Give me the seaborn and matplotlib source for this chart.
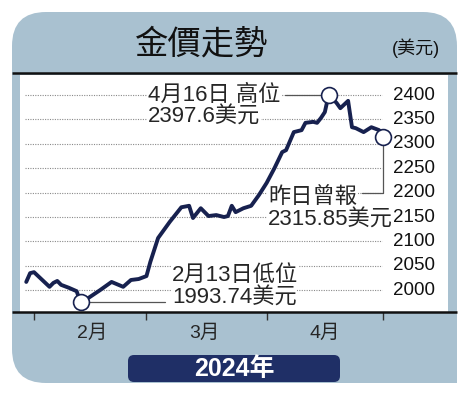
import pandas as pd
import matplotlib.pyplot as plt
import seaborn as sns
from matplotlib.patches import FancyBboxPatch, Rectangle

sns.set_theme(style='white')
plt.rcParams['font.family'] = ['Liberation Sans', 'Noto Sans CJK TC', 'DejaVu Sans']

# gold price, US$
dates = ['2024-01-30', '2024-01-31', '2024-02-01', '2024-02-05', '2024-02-06', '2024-02-07',
         '2024-02-08', '2024-02-10', '2024-02-12', '2024-02-13', '2024-02-15', '2024-02-18',
         '2024-02-21', '2024-02-24', '2024-02-26', '2024-02-28', '2024-03-01', '2024-03-02',
         '2024-03-04', '2024-03-07', '2024-03-10', '2024-03-12', '2024-03-13', '2024-03-15',
         '2024-03-17', '2024-03-19', '2024-03-21', '2024-03-22', '2024-03-23', '2024-03-24',
         '2024-03-26', '2024-03-28', '2024-03-30', '2024-04-01', '2024-04-03', '2024-04-05',
         '2024-04-06', '2024-04-08', '2024-04-10', '2024-04-11', '2024-04-13', '2024-04-14',
         '2024-04-15', '2024-04-16', '2024-04-17', '2024-04-19', '2024-04-20', '2024-04-22',
         '2024-04-23', '2024-04-24', '2024-04-26', '2024-04-28', '2024-04-30', '2024-05-01']
prices = [2017, 2035, 2037, 2007, 2015, 2019,
          2011, 2005, 1998, 1975, 1984, 2000,
          2017, 2007, 2021, 2023, 2029, 2058,
          2107, 2140, 2170, 2173, 2148, 2168,
          2152, 2154, 2150, 2152, 2173, 2160,
          2168, 2173, 2195, 2220, 2250, 2283,
          2287, 2324, 2328, 2343, 2345, 2343,
          2353, 2365, 2401, 2384, 2373, 2388,
          2334, 2332, 2324, 2334, 2328, 2314]
y_ticks = [2000, 2050, 2100, 2150, 2200, 2250, 2300, 2350, 2400]
month_starts = ['2024-02-01', '2024-03-01', '2024-04-01', '2024-05-01']
month_mid = ['2024-02-16', '2024-03-16', '2024-04-16']
month_labels = ['2月', '3月', '4月']

df = pd.DataFrame({'date': pd.to_datetime(dates), 'price': prices})

navy = '#17214f'
panel = '#a9c1d0'
grey = '#8a8a8a'

fig = plt.figure(figsize=(4.74, 3.99), dpi=100)
fig.patch.set_facecolor('white')

# background panel, pixel coordinates
bg = fig.add_axes([0, 0, 1, 1], zorder=0)
bg.set_xlim(0, 474)
bg.set_ylim(399, 0)
bg.axis('off')
bg.add_patch(FancyBboxPatch((12, 12), 445, 371, boxstyle='round,pad=0,rounding_size=34',
                            fc=panel, ec='none'))
bg.add_patch(Rectangle((400, 300), 57, 83, fc=panel, ec='none'))
bg.text(201, 45, '金價走勢', fontsize=24, ha='center', va='center', color='#111111')
bg.text(416, 48, '(美元)', fontsize=13, ha='center', va='center', color='#111111')
bg.add_patch(FancyBboxPatch((128, 355), 212, 27, boxstyle='round,pad=0,rounding_size=6',
                            fc='#1f2f66', ec='none'))
bg.text(234, 369, '2024年', fontsize=18, fontweight='bold', ha='center', va='center', color='white')

# main chart
ax = fig.add_axes([20 / 474, 1 - 312 / 399, 428 / 474, 237 / 399], zorder=1)
ax.set_facecolor('white')
t0 = pd.Timestamp('2024-02-01')
day = pd.Timedelta(days=1)
ax.set_xlim(t0 - 3.61 * day, t0 + 106.76 * day)
ax.set_ylim(1955.4, 2441)

ax.hlines(y_ticks, t0 - 2.3 * day, t0 + 89.7 * day, colors=grey, linestyles=(0, (1, 1.2)),
          linewidth=0.8, zorder=1)
for v in y_ticks:
    ax.text(t0 + 92.6 * day, v, str(v), fontsize=13.5, ha='left', va='center', color='#111111')

sns.lineplot(data=df, x='date', y='price', ax=ax, color=navy, linewidth=2.8, zorder=3)

lo = df['price'].idxmin()
hi = df['price'].idxmax()
last = len(df) - 1
lc = '#555555'
ax.plot([df['date'][lo], t0 + 33.8 * day], [df['price'][lo]] * 2, color=lc, lw=0.9, zorder=2)
ax.plot([t0 + 64.7 * day, df['date'][hi]], [df['price'][hi]] * 2, color=lc, lw=0.9, zorder=2)
ax.plot([df['date'][last], df['date'][last], t0 + 84.6 * day],
        [df['price'][last], 2199, 2199], color=lc, lw=0.9, zorder=2)
pts = df.loc[[lo, hi, last]]
ax.scatter(pts['date'], pts['price'], s=130, facecolor='white', edgecolor=navy,
           linewidth=1.2, zorder=5)

box = dict(facecolor='white', edgecolor='none', pad=0.5)
fs = 16
ax.text(t0 + 29.4 * day, 2400, '4月16日 高位', fontsize=fs, ha='left', va='center', bbox=box, zorder=4)
ax.text(t0 + 29.4 * day, 2355, '2397.6美元', fontsize=fs, ha='left', va='center', bbox=box, zorder=4)
ax.text(t0 + 60.3 * day, 2191, '昨日曾報', fontsize=fs, ha='left', va='center', bbox=box, zorder=4)
ax.text(t0 + 60.3 * day, 2144, '2315.85美元', fontsize=fs, ha='left', va='center', bbox=box, zorder=4)
ax.text(t0 + 35.6 * day, 2031, '2月13日低位', fontsize=fs, ha='left', va='center', bbox=box, zorder=4)
ax.text(t0 + 35.6 * day, 1984, '1993.74美元', fontsize=fs, ha='left', va='center', bbox=box, zorder=4)

for s in ax.spines.values():
    s.set_visible(False)
ax.set_xlabel('')
ax.set_ylabel('')
ax.set_yticks([])
ax.set_xticks(pd.to_datetime(month_starts))
ax.set_xticklabels([])
ax.set_xticks(pd.to_datetime(month_mid), minor=True)
ax.set_xticklabels(month_labels, minor=True, fontsize=14)
ax.tick_params(axis='x', which='major', direction='out', length=6, width=1, color='#333333', bottom=True)
ax.tick_params(axis='x', which='minor', length=0, pad=9, bottom=True)

# black rules across the panel
top = fig.add_axes([0, 0, 1, 1], zorder=2)
top.set_xlim(0, 474)
top.set_ylim(399, 0)
top.axis('off')
top.plot([12, 457], [73, 73], color='#111111', lw=1.8, solid_capstyle='butt')
top.plot([12, 457], [312, 312], color='#111111', lw=1.8, solid_capstyle='butt')

fig.savefig('out.png', dpi=100)
